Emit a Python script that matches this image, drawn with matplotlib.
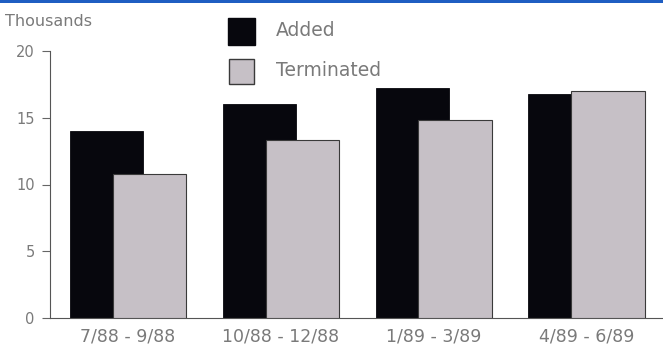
import numpy as np
import matplotlib.pyplot as plt
from matplotlib.patches import Rectangle

# quarterly counts, thousands
periodos = ['7/88 - 9/88', '10/88 - 12/88', '1/89 - 3/89', '4/89 - 6/89']
agregados = [14.0, 16.0, 17.2, 16.8]
terminados = [10.8, 13.3, 14.8, 17.0]

color_negro = '#07070d'
color_gris = '#c6c0c6'
color_texto = '#7a7a7a'

fig = plt.figure(figsize=(6.63, 3.49), dpi=100)
fig.patch.set_facecolor('white')

# franja azul superior
fig.add_artist(Rectangle((0, 1 - 3 / 349), 1, 3 / 349, transform=fig.transFigure,
                         facecolor='#1f5ec2', edgecolor='none'))

ax = fig.add_axes([50 / 663, 31 / 349, 613 / 663, 267 / 349])
x = np.arange(len(periodos))
ancho = 0.48
ax.bar(x - 0.14, agregados, ancho, color=color_negro, edgecolor=color_negro, linewidth=0.6, zorder=2)
ax.bar(x + 0.14, terminados, ancho, color=color_gris, edgecolor='#3a3a3a', linewidth=0.8, zorder=3)

ax.set_xlim(-0.51, 3.5)
ax.set_ylim(0, 20)
ax.set_yticks([0, 5, 10, 15, 20])
ax.set_xticks(x)
ax.set_xticklabels(periodos)
for s in ['top', 'right']:
    ax.spines[s].set_visible(False)
ax.spines['left'].set_color('#555555')
ax.spines['bottom'].set_color('#555555')
ax.tick_params(axis='y', direction='out', length=6, width=0.8, colors='#666666',
               labelcolor=color_texto, labelsize=10.5, pad=5)
ax.tick_params(axis='x', length=0, labelcolor=color_texto, labelsize=12.5, pad=7)

fig.text(5 / 663, 1 - 22 / 349, 'Thousands', color=color_texto, fontsize=11.5, va='center')

# leyenda
fig.add_artist(Rectangle((228 / 663, 1 - 45 / 349), 27 / 663, 27 / 349, transform=fig.transFigure,
                         facecolor=color_negro, edgecolor=color_negro))
fig.add_artist(Rectangle((229 / 663, 1 - 84 / 349), 25 / 663, 25 / 349, transform=fig.transFigure,
                         facecolor=color_gris, edgecolor='#3a3a3a', linewidth=1))
fig.text(276 / 663, 1 - 31 / 349, 'Added', color=color_texto, fontsize=13.5, va='center')
fig.text(276 / 663, 1 - 71 / 349, 'Terminated', color=color_texto, fontsize=13.5, va='center')

plt.savefig('out.png', dpi=100, facecolor='white')
